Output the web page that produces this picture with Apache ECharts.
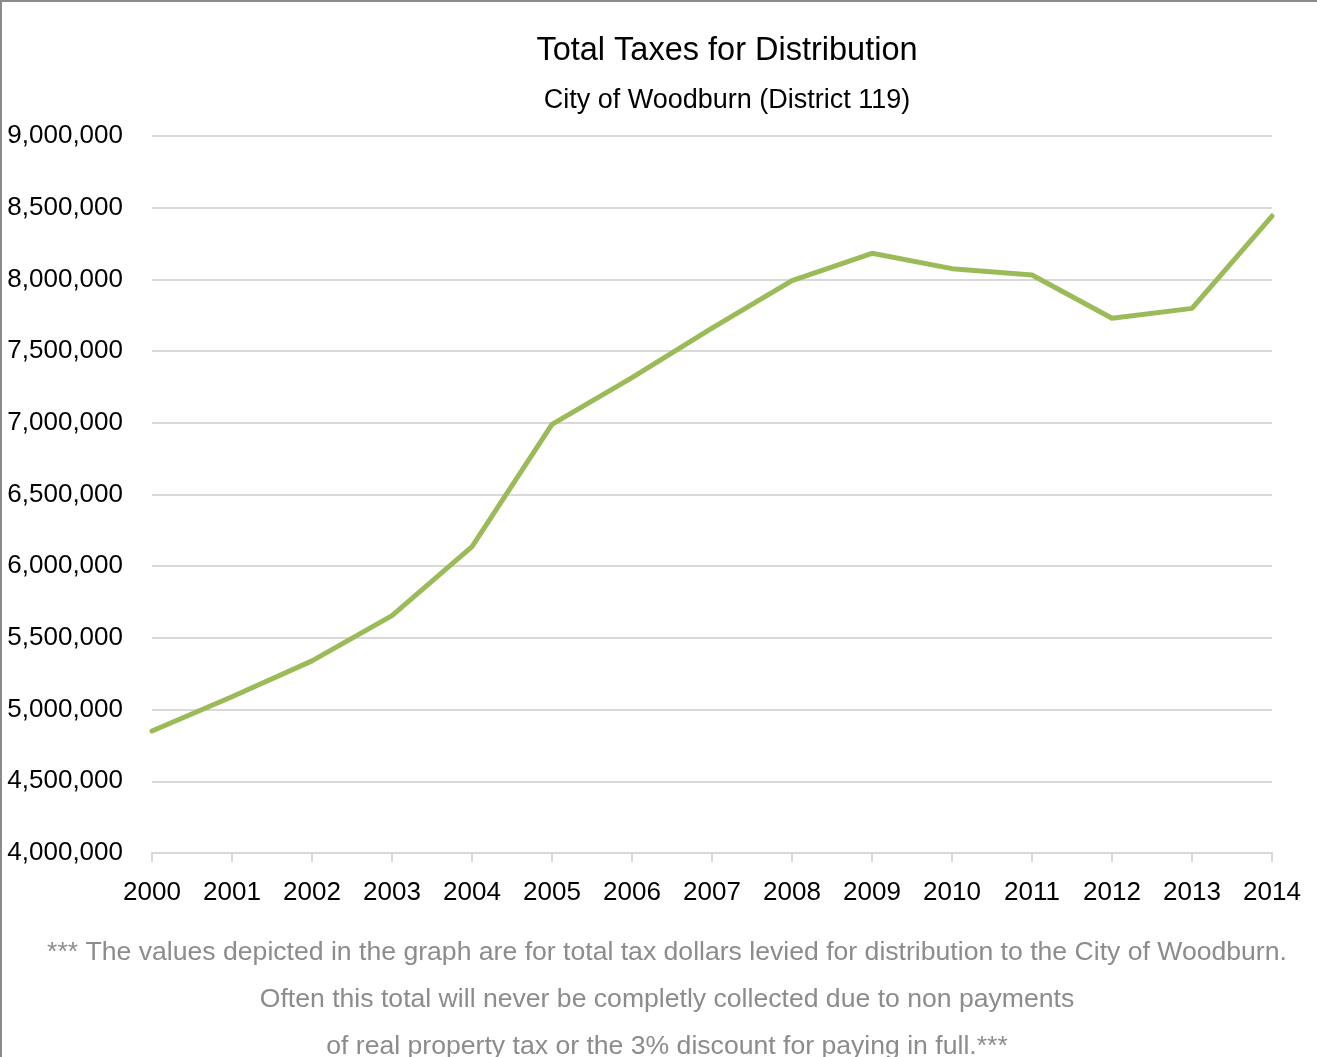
<!DOCTYPE html>
<html>
<head>
    <title>Total Taxes for Distribution</title>
    <script src="https://cdnjs.cloudflare.com/ajax/libs/echarts/6.0.0/echarts.min.js"></script>
    <style>
        html, body { margin: 0; padding: 0; overflow: hidden; background: #fff; }
        .frame {
            width: 1317px;
            height: 1057px;
            box-sizing: border-box;
            border-left: 2px solid #8c8c8c;
            border-top: 2px solid #8c8c8c;
        }
        #chart_div { width: 1315px; height: 1055px; }
    </style>
</head>
<body>
    <div class="frame">
        <div id="chart_div"></div>
    </div>

    <script>
        // data
        const years = ['2000', '2001', '2002', '2003', '2004', '2005', '2006', '2007',
                       '2008', '2009', '2010', '2011', '2012', '2013', '2014'];
        const totalTaxes = [4851000, 5090000, 5340000, 5655000, 6136000, 6989000, 7315000, 7660000,
                            7991000, 8182000, 8075000, 8031000, 7729000, 7798000, 8442000];
        const chartTitle = 'Total Taxes for Distribution';
        const chartSubtitle = 'City of Woodburn (District 119)';
        const footnoteLines = [
            '*** The values depicted in the graph are for total tax dollars levied for distribution to the City of Woodburn.',
            'Often this total will never be completly collected due to non payments',
            'of real property tax or the 3% discount for paying in full.***'
        ];

        const fontFamily = '"Liberation Sans", Arial, sans-serif';
        const myChart = echarts.init(document.getElementById('chart_div'));

        const option = {
            animation: false,
            textStyle: { fontFamily: fontFamily },
            title: [
                {
                    text: chartTitle,
                    left: 725,
                    top: 21,
                    textAlign: 'center',
                    padding: 0,
                    textStyle: { fontSize: 32.5, fontWeight: 'normal', color: '#000', fontFamily: fontFamily }
                },
                {
                    text: chartSubtitle,
                    left: 725,
                    top: 75,
                    textAlign: 'center',
                    padding: 0,
                    textStyle: { fontSize: 27, fontWeight: 'normal', color: '#000', fontFamily: fontFamily }
                },
                {
                    text: footnoteLines.join('\n'),
                    left: 665,
                    top: 927,
                    textAlign: 'center',
                    padding: 0,
                    textStyle: { fontSize: 26.6, fontWeight: 'normal', color: '#8c8c8c', lineHeight: 47, fontFamily: fontFamily }
                }
            ],
            grid: {
                left: 150,
                right: 45,
                top: 134,
                bottom: 204,
                containLabel: false
            },
            xAxis: {
                type: 'category',
                data: years,
                boundaryGap: false,
                axisLine: { lineStyle: { color: '#d9d9d9', width: 2 } },
                axisTick: { show: true, length: 9, lineStyle: { color: '#d9d9d9', width: 2 } },
                axisLabel: { color: '#000', fontSize: 26, margin: 17, fontFamily: fontFamily },
                splitLine: { show: false }
            },
            yAxis: {
                type: 'value',
                min: 4000000,
                max: 9000000,
                interval: 500000,
                axisLine: { show: false },
                axisTick: { show: false },
                axisLabel: {
                    color: '#000',
                    fontSize: 26,
                    margin: 29,
                    padding: [4, 0, 0, 0],
                    fontFamily: fontFamily,
                    formatter: v => v.toLocaleString('en-US')
                },
                splitLine: { lineStyle: { color: '#d9d9d9', width: 2 } }
            },
            series: [
                {
                    name: 'Total Taxes',
                    type: 'line',
                    data: totalTaxes,
                    showSymbol: false,
                    lineStyle: { color: '#9bbb59', width: 5, join: 'round', cap: 'round' },
                    itemStyle: { color: '#9bbb59' }
                }
            ]
        };

        myChart.setOption(option);

        window.addEventListener('resize', () => {
            myChart.resize();
        });
    </script>
</body>
</html>
